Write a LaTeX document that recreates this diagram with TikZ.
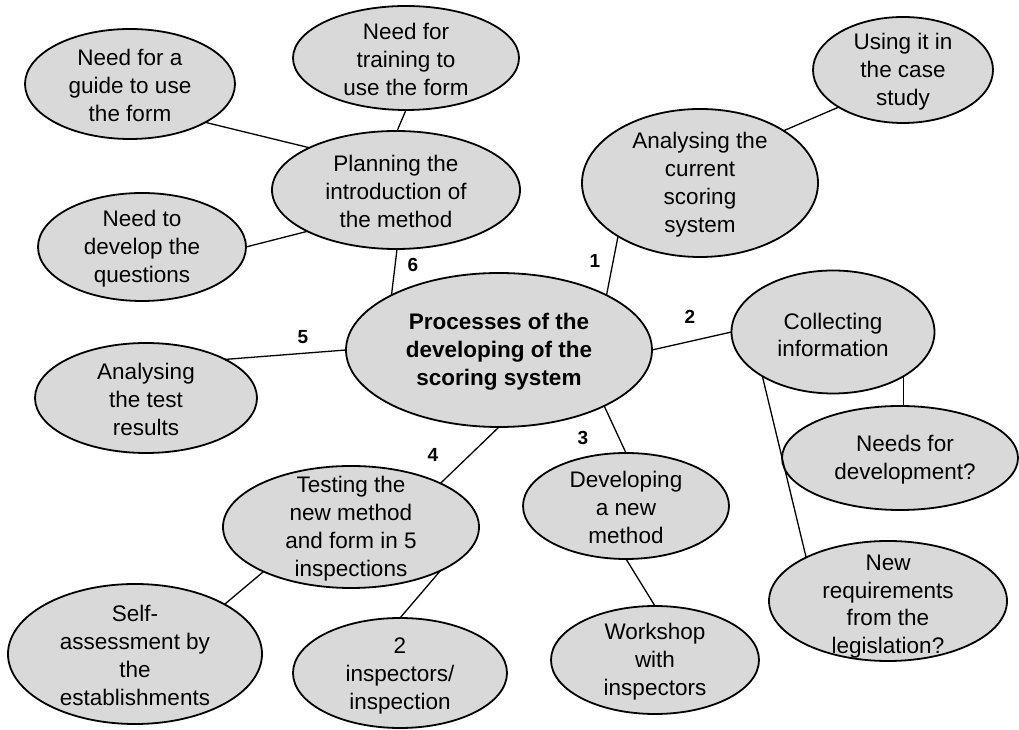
\documentclass[tikz,border=0pt]{standalone}
\usepackage{fontspec}
\setmainfont{Liberation Sans}
\usetikzlibrary{shapes.geometric}
\definecolor{bubgray}{RGB}{217,217,217}
\begin{document}
\begin{tikzpicture}[x=1pt,y=1pt,
  bub/.style={ellipse, draw=black, line width=1.8pt, fill=bubgray, inner sep=0pt, outer sep=0pt},
  txt/.style={align=center, font=\fontsize{22.5}{27.8}\selectfont, inner sep=0pt, yshift=-1.5pt},
  btxt/.style={align=center, font=\fontsize{22.5}{27.8}\selectfont\bfseries, inner sep=0pt, yshift=-1.5pt},
  num/.style={font=\fontsize{19}{22}\selectfont\bfseries, inner sep=0pt},
  link/.style={line width=1.3pt}]
\useasboundingbox (0,0) rectangle (1019,730);

\node[bub, minimum width=210pt, minimum height=110pt, label={[txt]center:{Need for a\\guide to use\\the form}}] (guide) at (130,646) {};
\node[bub, minimum width=226pt, minimum height=104pt, label={[txt]center:{Need for\\training to\\use the form}}] (training) at (406,672) {};
\node[bub, minimum width=248pt, minimum height=118pt, label={[txt]center:{Planning the\\introduction of\\the method}}] (planning) at (396,540) {};
\node[bub, minimum width=208pt, minimum height=108pt, label={[txt]center:{Need to\\develop the\\questions}}] (questions) at (142,483) {};
\node[bub, minimum width=180pt, minimum height=106pt, label={[txt]center:{Using it in\\the case\\study}}] (casestudy) at (903,660) {};
\node[bub, minimum width=236pt, minimum height=148pt, label={[txt]center:{Analysing the\\current\\scoring\\system}}] (current) at (700,547) {};
\node[bub, minimum width=306pt, minimum height=154pt, label={[btxt]center:{Processes of the\\developing of the\\scoring system}}] (central) at (499,380) {};
\node[bub, minimum width=203pt, minimum height=123pt, label={[txt, yshift=-1.5pt]center:{Collecting\\information}}] (coll) at (833,398) {};
\node[bub, minimum width=236pt, minimum height=104pt, label={[txt, xshift=5pt]center:{Needs for\\development?}}] (needs) at (900,272) {};
\node[bub, minimum width=238pt, minimum height=120pt, label={[txt, yshift=-4pt]center:{New\\requirements\\from the\\legislation?}}] (newreq) at (888,129) {};
\node[bub, minimum width=206pt, minimum height=106pt, label={[txt]center:{Developing\\a new\\method}}] (developing) at (626,224) {};
\node[bub, minimum width=208pt, minimum height=108pt, label={[txt]center:{Workshop\\with\\inspectors}}] (workshop) at (655,70) {};
\node[bub, minimum width=222pt, minimum height=110pt, label={[txt]center:{Analysing\\the test\\results}}] (testres) at (146,332) {};
\node[bub, minimum width=256pt, minimum height=122pt, label={[txt]center:{Testing the\\new method\\and form in 5\\inspections}}] (testing) at (351,203) {};
\node[bub, minimum width=254pt, minimum height=140pt, label={[txt]center:{Self-\\assessment by\\the\\establishments}}] (self) at (135,76) {};
\node[bub, minimum width=214pt, minimum height=110pt, label={[txt, yshift=-1.5pt]center:{2\\inspectors/\\inspection}}] (twoinsp) at (400,57) {};

\draw[link] (guide.-27) -- (planning.154);
\draw[link] (training.-90) -- (planning.89);
\draw[link] (questions.0) -- (planning.205);
\draw[link] (planning.-89) -- (central.153);
\draw[link] (central.27) -- (current.213);
\draw[link] (current.32) -- (casestudy.210);
\draw[link] (central.0) -- (coll.180);
\draw[link] (coll.-32) -- (coll.-32 |- needs.north);
\draw[link] (coll.212) -- (newreq.152);
\draw[link] (central.180) -- (testres.26);
\draw[link] (central.-90) -- (testing.26);
\draw[link] (central.-28) -- (developing.90);
\draw[link] (developing.-90) -- (workshop.90);
\draw[link] (testing.207) -- (self.29);
\draw[link] (testing.-26) -- (twoinsp.90);

\node[num] (n6) at (413,465) {6};
\node[num] (n1) at (595,469) {1};
\node[num] (n2) at (690,413) {2};
\node[num] (n5) at (303,393) {5};
\node[num] (n4) at (433,275) {4};
\node[num] (n3) at (583,292) {3};
\end{tikzpicture}
\end{document}
